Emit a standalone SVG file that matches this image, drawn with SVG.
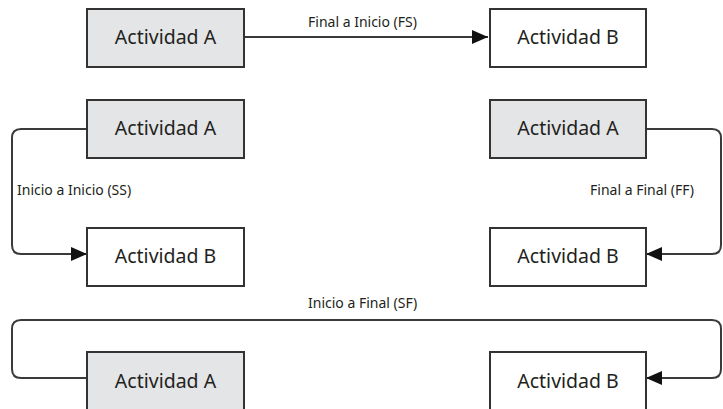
<svg xmlns="http://www.w3.org/2000/svg" width="723" height="409" viewBox="0 0 723 409">
<style>
.box{stroke:#333;stroke-width:2}
.a{fill:#e4e5e7}
.b{fill:#fff}
.t{font-family:"Noto Sans","Open Sans",sans-serif;font-size:19.5px;fill:#231f20;text-anchor:middle}
.l{font-family:"Noto Sans","Open Sans",sans-serif;font-size:14px;fill:#231f20}
.c{fill:none;stroke:#3a3a3a;stroke-width:2}
</style>
<defs>
<marker id="ah" markerUnits="userSpaceOnUse" markerWidth="16" markerHeight="14" refX="16" refY="7" orient="auto">
<path d="M0,0 L16,7 L0,14 Z" fill="#111"/>
</marker>
</defs>
<rect width="723" height="409" fill="#fff"/>
<g id="connectors">
<path class="c" d="M244,37 H488" marker-end="url(#ah)"/>
<path class="c" d="M87,129 H21 Q12,129 12,138 V245 Q12,254 21,254 H87" marker-end="url(#ah)"/>
<path class="c" d="M646,129 H712 Q721,129 721,138 V245 Q721,254 712,254 H646" marker-end="url(#ah)"/>
<path class="c" d="M87,378 H21 Q12,378 12,369 V329 Q12,320 21,320 H712 Q721,320 721,329 V369 Q721,378 712,378 H646" marker-end="url(#ah)"/>
</g>
<g id="labels">
<text class="l" x="308" y="27">Final a Inicio (FS)</text>
<text class="l" x="17" y="195">Inicio a Inicio (SS)</text>
<text class="l" x="694" y="195" text-anchor="end">Final a Final (FF)</text>
<text class="l" x="308" y="308">Inicio a Final (SF)</text>
</g>
<g id="fs-a"><rect class="box a" x="87" y="9" width="157" height="58"/><text class="t" x="165.5" y="44">Actividad A</text></g>
<g id="fs-b"><rect class="box b" x="490" y="9" width="156" height="58"/><text class="t" x="568" y="44">Actividad B</text></g>
<g id="ss-a"><rect class="box a" x="87" y="100" width="157" height="58"/><text class="t" x="165.5" y="135">Actividad A</text></g>
<g id="ss-b"><rect class="box b" x="87" y="228" width="157" height="58"/><text class="t" x="165.5" y="263">Actividad B</text></g>
<g id="ff-a"><rect class="box a" x="490" y="100" width="156" height="58"/><text class="t" x="568" y="135">Actividad A</text></g>
<g id="ff-b"><rect class="box b" x="490" y="228" width="156" height="58"/><text class="t" x="568" y="263">Actividad B</text></g>
<g id="sf-a"><rect class="box a" x="87" y="352" width="157" height="70"/><text class="t" x="165.5" y="388">Actividad A</text></g>
<g id="sf-b"><rect class="box b" x="490" y="352" width="156" height="70"/><text class="t" x="568" y="388">Actividad B</text></g>
</svg>
